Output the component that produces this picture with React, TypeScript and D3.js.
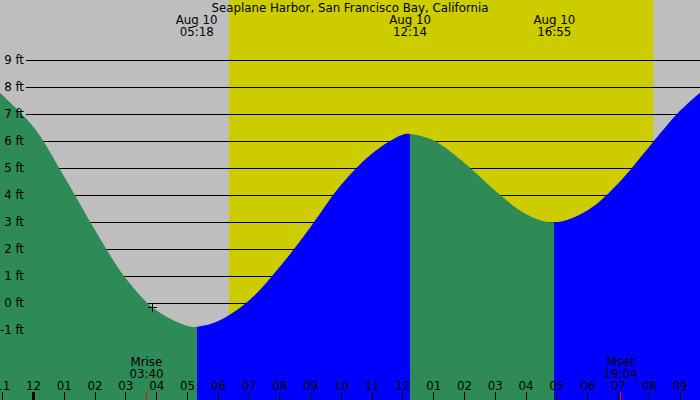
import React from "react";
import * as d3 from "d3";

const W = 700;
const H = 400;

const title = "Seaplane Harbor, San Francisco Bay, California";

// tide readings: hours since midnight Aug 10, height in feet
const tideHours = [-1.1, 0, 1, 2, 3, 4, 5, 5.3, 6, 7, 8, 9, 10, 11, 12, 12.233, 13, 14, 15, 16, 16.917, 18, 19, 20, 21, 21.7];
const tideFeet = [7.8, 6.53, 4.69, 2.71, 0.92, -0.27, -0.84, -0.87, -0.66, 0.1, 1.35, 2.83, 4.4, 5.55, 6.25, 6.27, 6.03, 5.2, 4.17, 3.3, 3.0, 3.45, 4.45, 5.8, 7.13, 7.85];

// extremes (labels at top)
const eventHours = [5.3, 12.233, 16.917];
const eventDates = ["Aug 10", "Aug 10", "Aug 10"];
const eventTimes = ["05:18", "12:14", "16:55"];

// phase boundaries: falling (green) / rising (blue)
const phaseStart = [-1.2, 5.3, 12.233, 16.917];
const phaseEnd = [5.3, 12.233, 16.917, 22];
const phaseRising = [false, true, false, true];

const sunrise = 6.35;
const sunset = 20.13;

const moonHours = [3.667, 19.067];
const moonNames = ["Mrise", "Mset"];
const moonTimes = ["03:40", "19:04"];

const gridFeet = [-1, 0, 1, 2, 3, 4, 5, 6, 7, 8, 9];
const hourTicks = [-1, 0, 1, 2, 3, 4, 5, 6, 7, 8, 9, 10, 11, 12, 13, 14, 15, 16, 17, 18, 19, 20, 21];

const markerHour = 3.87;
const markerFeet = -0.14;

const FONT = "DejaVu Sans";

export default function App() {
  const x = d3.scaleLinear().domain([0, 21]).range([33.5, 680]);
  const y = d3.scaleLinear().domain([0, 9]).range([303.3, 60.3]);

  const pts = tideHours.map((h, i) => [h, tideFeet[i]] as [number, number]);
  const area = d3
    .area<[number, number]>()
    .x((d) => x(d[0]))
    .y0(H)
    .y1((d) => y(d[1]))
    .curve(d3.curveCatmullRom.alpha(0.5));
  const areaPath = area(pts) || "";

  const hourLabel = (h: number) => {
    const m = ((h % 12) + 12) % 12;
    const v = m === 0 ? 12 : m;
    return String(v).padStart(2, "0");
  };

  return (
    <svg
      width={W}
      height={H}
      style={{ position: "absolute", left: 0, top: 0, display: "block" }}
      fontFamily={FONT}
      fontSize={11.8}
    >
      <defs>
        <clipPath id="water">
          <path d={areaPath} />
        </clipPath>
      </defs>
      <rect x={0} y={0} width={W} height={H} fill="#bebebe" />
      <rect x={x(sunrise)} y={0} width={x(sunset) - x(sunrise)} height={H} fill="#cccc00" />
      {gridFeet.map((f) => (
        <line key={f} x1={26} x2={W} y1={y(f)} y2={y(f)} stroke="#000" strokeWidth={1} shapeRendering="crispEdges" />
      ))}
      <g clipPath="url(#water)">
        {phaseStart.map((s, i) => (
          <rect
            key={i}
            x={x(s)}
            y={0}
            width={x(phaseEnd[i]) - x(s)}
            height={H}
            fill={phaseRising[i] ? "#0000ff" : "#2e8b57"}
            shapeRendering="crispEdges"
          />
        ))}
      </g>
      <text x={W / 2} y={12} textAnchor="middle" fill="#000">
        {title}
      </text>
      {eventHours.map((h, i) => (
        <g key={i}>
          <text x={x(h)} y={24} textAnchor="middle" fill="#000">
            {eventDates[i]}
          </text>
          <text x={x(h)} y={36} textAnchor="middle" fill="#000">
            {eventTimes[i]}
          </text>
        </g>
      ))}
      {gridFeet.map((f) => (
        <text key={f} x={24} y={y(f) + 4} textAnchor="end" fill="#000">
          {`${f} ft`}
        </text>
      ))}
      {hourTicks.map((h) => (
        <g key={h}>
          <text x={x(h)} y={390} textAnchor="middle" fill="#000">
            {hourLabel(h)}
          </text>
          <line
            x1={x(h)}
            x2={x(h)}
            y1={392}
            y2={H}
            stroke="#000"
            strokeWidth={h === 0 ? 3 : 1}
            shapeRendering="crispEdges"
          />
        </g>
      ))}
      {moonHours.map((h, i) => (
        <g key={i}>
          <text x={x(h)} y={366} textAnchor="middle" fill="#000">
            {moonNames[i]}
          </text>
          <text x={x(h)} y={378} textAnchor="middle" fill="#000">
            {moonTimes[i]}
          </text>
          <line x1={x(h)} x2={x(h)} y1={392} y2={H} stroke="#ff0000" strokeWidth={1.5} shapeRendering="crispEdges" />
        </g>
      ))}
      <g stroke="#000" strokeWidth={1} shapeRendering="crispEdges">
        <line x1={x(markerHour) - 4.5} x2={x(markerHour) + 4.5} y1={y(markerFeet)} y2={y(markerFeet)} />
        <line x1={x(markerHour)} x2={x(markerHour)} y1={y(markerFeet) - 4.5} y2={y(markerFeet) + 4.5} />
      </g>
    </svg>
  );
}
